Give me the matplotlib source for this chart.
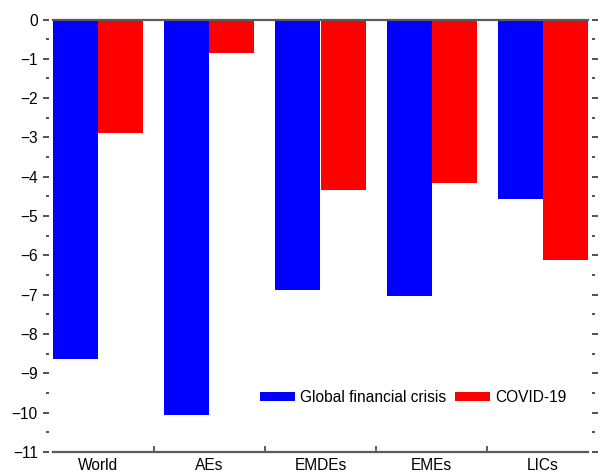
import numpy as np
import matplotlib
matplotlib.use("Agg")
import matplotlib.pyplot as plt
from matplotlib.patches import Patch
from matplotlib.ticker import MultipleLocator, FixedLocator

plt.rcParams["font.family"] = ["Liberation Sans", "DejaVu Sans"]

categories = ["World", "AEs", "EMDEs", "EMEs", "LICs"]
gfc = [-8.64, -10.05, -6.89, -7.04, -4.57]
covid = [-2.88, -0.85, -4.33, -4.17, -6.12]
series_names = ["Global financial crisis", "COVID-19"]
colors = ["#0000FF", "#FF0000"]

FS = 11.2
W, H = 603, 472
fig = plt.figure(figsize=(W / 100, H / 100), dpi=100)
ax = fig.add_axes([53 / W, 1 - 452 / H, (588 - 53) / W, (452 - 19.5) / H])

x = np.arange(len(categories))
bw = 0.405
ax.bar(x - bw / 2, gfc, width=bw, color=colors[0], linewidth=0)
ax.bar(x + bw / 2, covid, width=bw, color=colors[1], linewidth=0)

ax.set_xlim(-bw, len(categories) - 1 + bw)
ax.set_ylim(-11, 0)

# y axis: ticks on both sides, detached from the plot area
ax.yaxis.set_major_locator(MultipleLocator(1))
ax.yaxis.set_minor_locator(MultipleLocator(0.5))
for side in ("left", "right"):
    ax.spines[side].set_position(("outward", 3))
    ax.spines[side].set_color("none")
ax.tick_params(axis="y", which="major", left=True, right=True, direction="out",
               length=4.5, width=1.2, color="#333333", labelsize=FS, pad=3.5)
ax.tick_params(axis="y", which="minor", left=True, right=True, direction="out",
               length=2, width=1.2, color="#333333")

# x axis: labels at group centres, small marks between groups
ax.set_xticks(x)
ax.set_xticklabels(categories)
ax.xaxis.set_minor_locator(FixedLocator(x[:-1] + 0.5))
ax.tick_params(axis="x", which="major", length=0, labelsize=FS, pad=4)
ax.tick_params(axis="x", which="minor", direction="in", length=4.5, width=1.1,
               color="#333333")

for side in ("top", "bottom"):
    ax.spines[side].set_color("#5a5a5a")
    ax.spines[side].set_linewidth(1.6)

handles = [Patch(color=c, linewidth=0) for c in colors]
ax.legend(handles, series_names, ncol=2, loc="center left",
          bbox_to_anchor=(0.387, 0.126), frameon=False, fontsize=FS,
          borderpad=0, borderaxespad=0, handlelength=2.25, handleheight=0.48,
          handletextpad=0.35, columnspacing=0.55)

fig.savefig("out.png", dpi=100)
